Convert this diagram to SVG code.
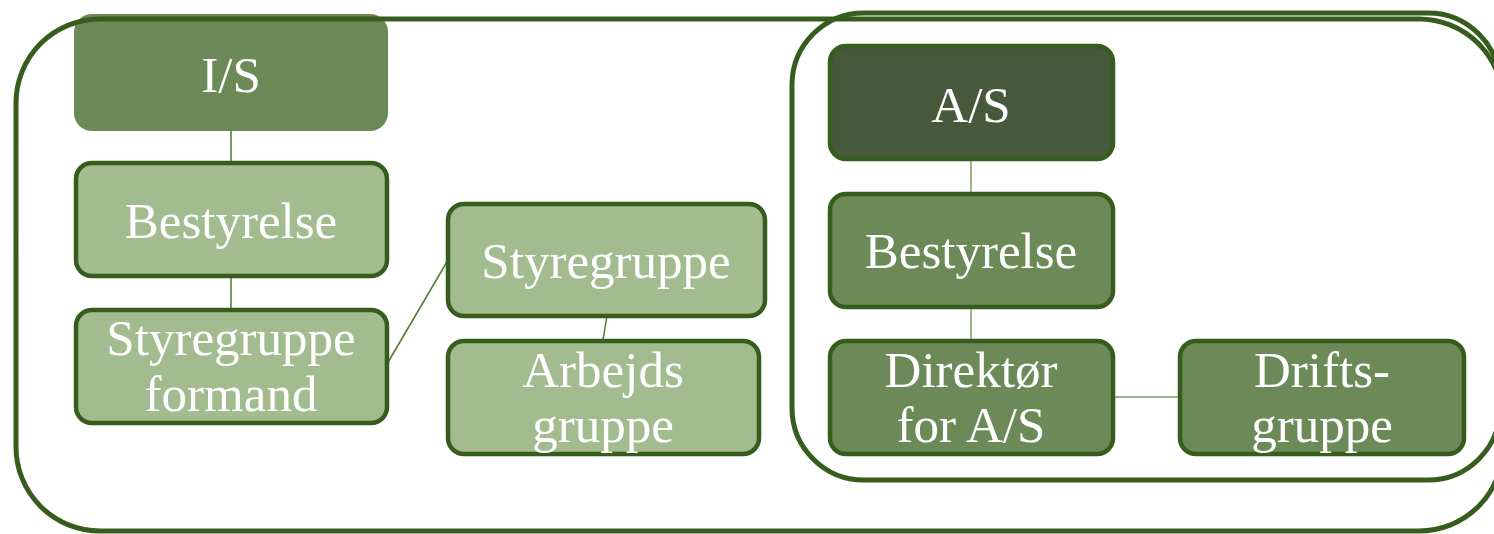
<svg xmlns="http://www.w3.org/2000/svg" width="1494" height="534" viewBox="0 0 1494 534">
<style>
.cont{fill:none;stroke:#375D1E;stroke-width:5}
.node{stroke:#375D1E;stroke-width:4.5}
.light{fill:#A2BB8F}
.mid{fill:#6B8A57}
.dark{fill:#46593A}
.t{font-family:"Liberation Serif","Times New Roman",serif;font-size:51px;fill:#FFFFFF;text-anchor:middle}
.c1{stroke:#4E7A2E;stroke-width:1.5;fill:none}
.c2{stroke:#9BB58A;stroke-width:2;fill:none}
</style>
<rect width="1494" height="534" fill="#FFFFFF"/>
<g id="node-is">
<rect x="74" y="14" width="314" height="117" rx="18" class="mid"/>
<text x="231" y="92" class="t">I/S</text>
</g>
<g id="containers">
<rect x="16" y="19" width="1487" height="512" rx="84" class="cont"/>
<rect x="792" y="13" width="708" height="467" rx="72" class="cont"/>
</g>
<g id="connectors">
<line x1="231" y1="131" x2="231" y2="162" class="c1"/>
<line x1="231" y1="276" x2="231" y2="309" class="c1"/>
<line x1="387" y1="364" x2="448" y2="260" class="c1"/>
<line x1="607" y1="316" x2="603" y2="340" class="c1"/>
<line x1="971" y1="159" x2="971" y2="193" class="c2"/>
<line x1="971" y1="307" x2="971" y2="340" class="c2"/>
<line x1="1113" y1="397" x2="1179" y2="397" class="c2"/>
</g>
<g id="node-bestyrelse-is">
<rect x="76" y="163" width="311" height="113" rx="16" class="node light"/>
<text x="231" y="238" class="t">Bestyrelse</text>
</g>
<g id="node-styregruppe-formand">
<rect x="76" y="310" width="311" height="113" rx="16" class="node light"/>
<text x="231" y="355" class="t">Styregruppe</text>
<text x="231" y="411" class="t">formand</text>
</g>
<g id="node-styregruppe">
<rect x="448" y="204" width="317" height="112" rx="16" class="node light"/>
<text x="606" y="278" class="t">Styregruppe</text>
</g>
<g id="node-arbejdsgruppe">
<rect x="448" y="341" width="311" height="113" rx="16" class="node light"/>
<text x="603" y="387" class="t">Arbejds</text>
<text x="603" y="442" class="t">gruppe</text>
</g>
<g id="node-as">
<rect x="830" y="46" width="283" height="113" rx="16" class="node dark"/>
<text x="971" y="122" class="t">A/S</text>
</g>
<g id="node-bestyrelse-as">
<rect x="830" y="194" width="283" height="113" rx="16" class="node mid"/>
<text x="971" y="268" class="t">Bestyrelse</text>
</g>
<g id="node-direktoer">
<rect x="830" y="341" width="283" height="113" rx="16" class="node mid"/>
<text x="971" y="387" class="t">Direktør</text>
<text x="971" y="442" class="t">for A/S</text>
</g>
<g id="node-driftsgruppe">
<rect x="1180" y="341" width="284" height="113" rx="16" class="node mid"/>
<text x="1322" y="387" class="t">Drifts-</text>
<text x="1322" y="442" class="t">gruppe</text>
</g>
</svg>
